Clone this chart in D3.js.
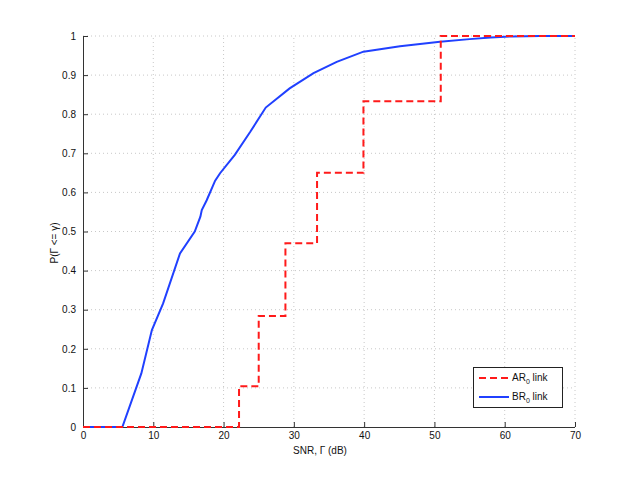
<!DOCTYPE html>
<html><head><meta charset="utf-8">
<script src="https://cdn.jsdelivr.net/npm/d3@7"></script>
<style>body{margin:0;background:#fff;} svg{display:block;} text{font-family:"Liberation Sans",Arial,Helvetica,sans-serif;}</style>
</head><body>
<svg id="c" width="635" height="481"></svg>
<script>
// AR0 link: empirical CDF step points (x in dB, y probability)
const arX = [0, 22.2, 22.2, 25.0, 25.0, 28.8, 28.8, 33.3, 33.3, 39.9, 39.9, 50.9, 50.9, 70];
const arY = [0, 0, 0.104, 0.104, 0.284, 0.284, 0.47, 0.47, 0.65, 0.65, 0.833, 0.833, 1.0, 1.0];
// BR0 link
const brX = [0, 5.6, 8.3, 9.8, 11.4, 13.8, 15.9, 16.7, 16.9, 17.6, 18.8, 19.5, 21.6, 23.8, 26.0, 29.4, 32.8, 36.1, 39.9, 45.1, 50.8, 55, 58, 61, 65, 70];
const brY = [0, 0, 0.137, 0.248, 0.316, 0.444, 0.5, 0.538, 0.555, 0.58, 0.63, 0.649, 0.696, 0.755, 0.817, 0.866, 0.905, 0.934, 0.96, 0.974, 0.985, 0.992, 0.996, 0.999, 1.0, 1.0];
const xTicks = [0, 10, 20, 30, 40, 50, 60, 70];
const yTicks = [0, 0.1, 0.2, 0.3, 0.4, 0.5, 0.6, 0.7, 0.8, 0.9, 1];
const yTickLabels = ["0","0.1","0.2","0.3","0.4","0.5","0.6","0.7","0.8","0.9","1"];

const svg = d3.select("#c");
const L = 83, R = 575, T = 36, B = 427;
const x = d3.scaleLinear().domain([0, 70]).range([L, R]);
const y = d3.scaleLinear().domain([0, 1]).range([B, T]);

// grid
const g = svg.append("g");
g.selectAll(".gx").data(xTicks.slice(1)).enter().append("line")
  .attr("x1", d => x(d)).attr("x2", d => x(d)).attr("y1", B).attr("y2", T)
  .attr("stroke", "#c8c8c8").attr("stroke-width", 1).attr("stroke-dasharray", "1,3");
g.selectAll(".gy").data(yTicks.slice(1)).enter().append("line")
  .attr("y1", d => y(d)).attr("y2", d => y(d)).attr("x1", L).attr("x2", R)
  .attr("stroke", "#c8c8c8").attr("stroke-width", 1).attr("stroke-dasharray", "1,3");

// axes
const xAxis = d3.axisBottom(x).tickValues(xTicks).tickSize(-5).tickPadding(5).tickFormat(d3.format("d"));
const yAxis = d3.axisLeft(y).tickValues(yTicks).tickSize(-5).tickPadding(7).tickFormat((d,i) => yTickLabels[i]);
const ax = svg.append("g").attr("transform", `translate(0,${B})`).call(xAxis);
const ay = svg.append("g").attr("transform", `translate(${L},0)`).call(yAxis);
[ax, ay].forEach(a => {
  a.select(".domain").attr("stroke", "#333").attr("stroke-width", 1);
  a.selectAll(".tick line").attr("stroke", "#333");
  a.selectAll("text").attr("fill", "#111").attr("font-size", 10).attr("font-family", "Liberation Sans, Arial, sans-serif");
});
ax.select(".domain").attr("d", `M${L},0.5H${R}`);
ay.select(".domain").attr("d", `M0.5,${B}V${T}`);

// lines
const lineGen = (xs, ys) => d3.line().x((d,i) => x(xs[i])).y((d,i) => y(ys[i]))(xs);
svg.append("path").attr("d", lineGen(brX, brY)).attr("fill", "none")
  .attr("stroke", "#2040ff").attr("stroke-width", 2);
svg.append("path").attr("d", lineGen(arX, arY)).attr("fill", "none")
  .attr("stroke", "#ff1a1a").attr("stroke-width", 2).attr("stroke-dasharray", "7,4");

// labels
svg.append("text").attr("x", 320).attr("y", 454).attr("text-anchor", "middle")
  .attr("font-size", 10).attr("fill", "#111").text("SNR, Γ (dB)");
svg.append("text").attr("transform", "translate(58,243) rotate(-90)").attr("text-anchor", "middle")
  .attr("font-size", 10).attr("fill", "#111").text("P(Γ <= γ)");

// legend
const lg = svg.append("g");
lg.append("rect").attr("x", 473.5).attr("y", 367.5).attr("width", 89).attr("height", 40)
  .attr("fill", "#fff").attr("stroke", "#222").attr("stroke-width", 1);
lg.append("line").attr("x1", 479).attr("x2", 509).attr("y1", 378).attr("y2", 378)
  .attr("stroke", "#ff1a1a").attr("stroke-width", 2).attr("stroke-dasharray", "7,4");
lg.append("line").attr("x1", 479).attr("x2", 509).attr("y1", 397).attr("y2", 397)
  .attr("stroke", "#2040ff").attr("stroke-width", 2);
const t1 = lg.append("text").attr("x", 512).attr("y", 381).attr("font-size", 10).attr("fill", "#111");
t1.append("tspan").text("AR");
t1.append("tspan").attr("font-size", 7).attr("dy", 3).text("0");
t1.append("tspan").attr("dy", -3).text(" link");
const t2 = lg.append("text").attr("x", 512).attr("y", 400).attr("font-size", 10).attr("fill", "#111");
t2.append("tspan").text("BR");
t2.append("tspan").attr("font-size", 7).attr("dy", 3).text("0");
t2.append("tspan").attr("dy", -3).text(" link");
</script>
</body></html>
